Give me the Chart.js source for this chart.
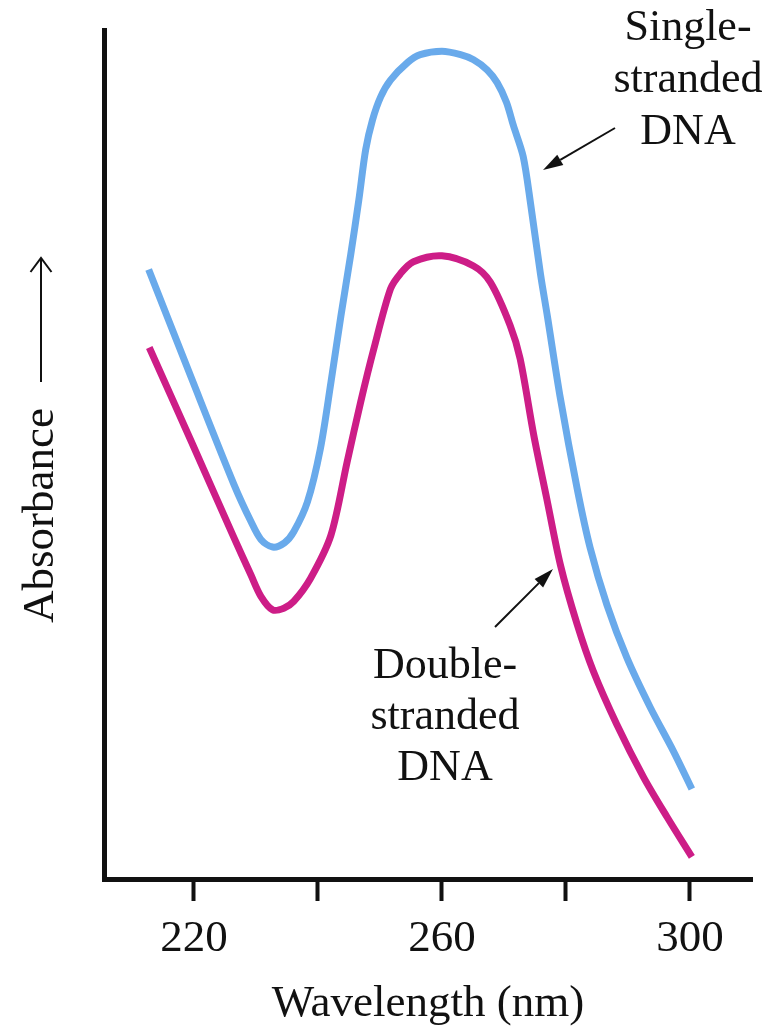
<!DOCTYPE html>
<html>
<head>
<meta charset="utf-8">
<script src="https://cdn.jsdelivr.net/npm/chart.js@4.4.1/dist/chart.umd.min.js"></script>
<style>
  html, body { margin: 0; padding: 0; background: #ffffff; }
  #wrap { width: 783px; height: 1031px; position: relative; }
</style>
</head>
<body>
<div id="wrap"><canvas id="c"></canvas></div>
<script>
// Single-stranded DNA (wavelength nm, relative absorbance 0-100)
const wavelengthSS = [212.7, 219.6, 226.5, 229.2, 230.8, 232.7, 234.6, 236.1, 238.3, 240.4, 242.1, 243.7, 245.3, 246.6, 247.7, 248.8, 250.1, 251.7, 254.5, 256.5, 260.0, 263.0, 265.1, 267.3, 268.9, 270.4, 271.5, 273.1, 274.3, 275.9, 277.0, 279.1, 281.8, 283.9, 286.6, 289.8, 293.6, 297.3, 300.3];
const absorbanceSS = [71.8, 59.0, 46.4, 42.1, 40.0, 39.1, 39.6, 40.9, 44.4, 50.7, 58.5, 66.3, 73.6, 80.0, 85.9, 89.4, 92.1, 94.1, 96.2, 97.1, 97.5, 97.1, 96.5, 95.3, 93.8, 91.5, 88.8, 85.1, 79.5, 71.2, 66.3, 56.6, 46.0, 39.0, 32.3, 26.1, 20.2, 15.1, 10.6];

// Double-stranded DNA
const wavelengthDS = [212.8, 219.6, 226.4, 229.2, 230.8, 232.7, 234.5, 236.1, 238.8, 242.1, 244.7, 246.9, 249.0, 251.7, 253.3, 255.4, 260.0, 265.1, 267.8, 271.0, 272.6, 274.8, 276.9, 279.1, 281.8, 284.4, 288.2, 292.5, 296.3, 300.3];
const absorbanceDS = [62.6, 51.5, 40.3, 35.8, 33.3, 31.7, 31.9, 32.7, 35.4, 40.5, 49.1, 56.2, 62.4, 69.5, 71.3, 72.7, 73.4, 72.2, 70.3, 65.2, 61.3, 52.3, 44.8, 37.0, 30.0, 24.5, 18.2, 12.0, 7.3, 2.6];

// X-axis ticks
const tickValues = [220, 240, 260, 280, 300];
const labeledTicks = [220, 260, 300];

const seriesNames = ['Single-stranded DNA', 'Double-stranded DNA'];
const ssLabelLines = ['Single-', 'stranded', 'DNA'];
const dsLabelLines = ['Double-', 'stranded', 'DNA'];
const yTitle = 'Absorbance';
const xTitle = 'Wavelength (nm)';

const FONT = "'Liberation Serif', 'Times New Roman', serif";

function toPoints(xs, ys) { return xs.map((x, i) => ({ x: x, y: ys[i] })); }

function arrow(ctx, x1, y1, x2, y2, headLen, headW) {
  const ang = Math.atan2(y2 - y1, x2 - x1);
  const bx = x2 - headLen * Math.cos(ang), by = y2 - headLen * Math.sin(ang);
  ctx.beginPath();
  ctx.moveTo(x1, y1);
  ctx.lineTo(bx, by);
  ctx.stroke();
  ctx.beginPath();
  ctx.moveTo(x2, y2);
  ctx.lineTo(bx + headW * Math.sin(ang), by - headW * Math.cos(ang));
  ctx.lineTo(bx - headW * Math.sin(ang), by + headW * Math.cos(ang));
  ctx.closePath();
  ctx.fill();
}

const annotationPlugin = {
  id: 'annot',
  afterDraw(chart) {
    const ctx = chart.ctx;
    ctx.save();
    ctx.fillStyle = '#111';
    ctx.strokeStyle = '#111';
    ctx.font = '44px ' + FONT;
    ctx.textAlign = 'center';
    ctx.textBaseline = 'alphabetic';
    const ssBase = [40, 92, 144];
    ssLabelLines.forEach((t, i) => ctx.fillText(t, 688, ssBase[i]));
    const dsBase = [678, 729, 780];
    dsLabelLines.forEach((t, i) => ctx.fillText(t, 445, dsBase[i]));

    ctx.lineWidth = 2;
    arrow(ctx, 615, 128, 543, 170, 20, 6);
    arrow(ctx, 495, 627, 553, 569, 20, 6);

    // Y title (rotated) with long arrow
    ctx.save();
    ctx.translate(53, 623);
    ctx.rotate(-Math.PI / 2);
    ctx.textAlign = 'left';
    ctx.textBaseline = 'alphabetic';
    ctx.font = '45px ' + FONT;
    ctx.fillText(yTitle, 0, 0);
    ctx.restore();

    ctx.lineWidth = 2;
    ctx.beginPath();
    ctx.moveTo(41, 382);
    ctx.lineTo(41, 258);
    ctx.stroke();
    ctx.beginPath();
    ctx.moveTo(30.5, 272);
    ctx.lineTo(41, 258);
    ctx.lineTo(51.5, 272);
    ctx.stroke();
    ctx.restore();
  }
};

new Chart(document.getElementById('c'), {
  type: 'line',
  data: {
    datasets: [
      {
        label: seriesNames[0],
        data: toPoints(wavelengthSS, absorbanceSS),
        borderColor: '#69AAEB',
        borderWidth: 7,
        pointRadius: 0,
        tension: 0.3,
        fill: false
      },
      {
        label: seriesNames[1],
        data: toPoints(wavelengthDS, absorbanceDS),
        borderColor: '#CD1D87',
        borderWidth: 7,
        pointRadius: 0,
        tension: 0.3,
        fill: false
      }
    ]
  },
  options: {
    responsive: true,
    maintainAspectRatio: false,
    animation: false,
    events: [],
    layout: { padding: { left: 104, top: 30, right: 31, bottom: 0 } },
    plugins: { legend: { display: false }, tooltip: { enabled: false } },
    scales: {
      x: {
        type: 'linear',
        min: 205.5,
        max: 310,
        afterBuildTicks: (scale) => { scale.ticks = tickValues.map(v => ({ value: v })); },
        ticks: {
          autoSkip: false,
          maxRotation: 0,
          padding: 11,
          color: '#111',
          font: { family: FONT, size: 45 },
          callback: (v) => labeledTicks.includes(v) ? String(v) : ''
        },
        grid: {
          display: true,
          drawOnChartArea: false,
          drawTicks: true,
          tickLength: 22,
          tickWidth: 4,
          tickColor: '#111'
        },
        border: { display: true, color: '#111', width: 5 },
        title: {
          display: true,
          text: xTitle,
          color: '#111',
          font: { family: FONT, size: 45 },
          padding: { top: 0, bottom: 0 }
        }
      },
      y: {
        type: 'linear',
        min: 0,
        max: 100,
        ticks: { display: false },
        grid: { display: false, drawTicks: false },
        border: { display: true, color: '#111', width: 5 }
      }
    }
  },
  plugins: [annotationPlugin]
});
</script>
</body>
</html>
